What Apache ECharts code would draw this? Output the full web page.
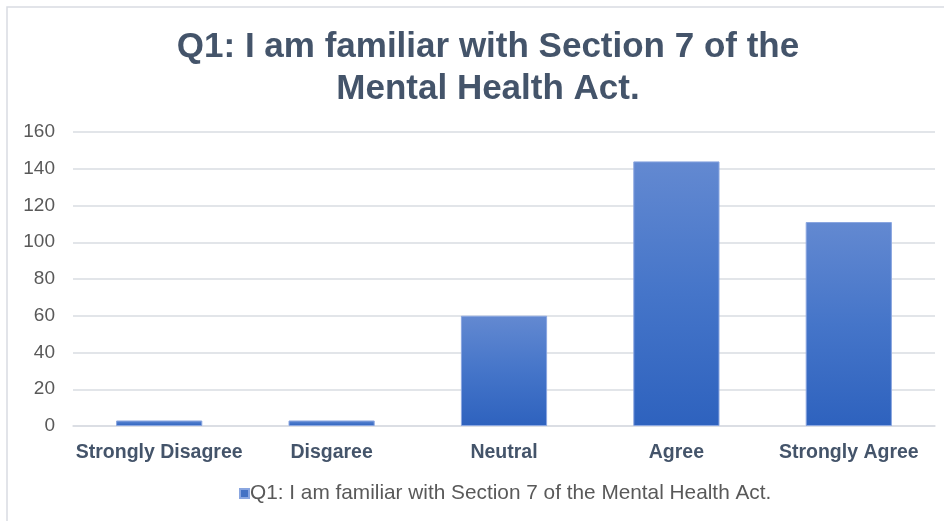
<!DOCTYPE html>
<html><head><meta charset="utf-8">
<style>html,body{margin:0;padding:0;background:#fff}#c{width:944px;height:521px}</style>
<script src="https://cdn.jsdelivr.net/npm/echarts@6/dist/echarts.min.js"></script>
</head><body><div id="c"></div>
<script>
var titleText = 'Q1: I am familiar with Section 7 of the\nMental Health Act.';
var seriesName = 'Q1: I am familiar with Section 7 of the Mental Health Act.';
var categories = ['Strongly Disagree', 'Disgaree', 'Neutral', 'Agree', 'Strongly Agree'];
var values = [3, 3, 60, 144, 111];
var yTicks = [0, 20, 40, 60, 80, 100, 120, 140, 160];

var chart = echarts.init(document.getElementById('c'));
chart.setOption({
  animation: false,
  graphic: [{
    type: 'rect', shape: {x: 7, y: 7, width: 1000, height: 1000},
    style: {fill: 'none', stroke: '#D9DCE2', lineWidth: 1.5}, silent: true, z: -1
  }],
  title: {
    text: titleText, left: 483, textAlign: 'center', top: 21,
    textStyle: {fontFamily: 'Liberation Sans, Arial', fontSize: 35, fontWeight: 'bold', color: '#44546A', lineHeight: 42}
  },
  legend: {
    data: [seriesName], bottom: 12, left: 234, itemWidth: 9, itemHeight: 9, icon: 'rect', itemGap: 4,
    itemStyle: {color: '#4472C4'},
    textStyle: {fontFamily: 'Liberation Sans, Arial', fontSize: 20.8, color: '#595959', padding: [0, 0, 0, -4]}
  },
  grid: {left: 73, right: 9, top: 132, bottom: 95, containLabel: false},
  xAxis: {
    type: 'category', data: categories,
    axisLine: {lineStyle: {color: '#D9DCE2', width: 1.5}}, axisTick: {show: false},
    axisLabel: {fontFamily: 'Liberation Sans, Arial', fontSize: 19.5, fontWeight: 'bold', color: '#44546A', margin: 17, interval: 0}
  },
  yAxis: {
    type: 'value', min: yTicks[0], max: yTicks[yTicks.length - 1], interval: 20,
    axisLine: {show: false}, axisTick: {show: false},
    splitLine: {lineStyle: {color: '#D9DCE2', width: 1.5}},
    axisLabel: {fontFamily: 'Liberation Sans, Arial', fontSize: 19, color: '#595959', margin: 18}
  },
  series: [{
    name: seriesName, type: 'bar', data: values, barWidth: '50%',
    itemStyle: {
      color: new echarts.graphic.LinearGradient(0, 0, 0, 1, [
        {offset: 0, color: '#6389D1'}, {offset: 0.5, color: '#4575C9'}, {offset: 1, color: '#2E62BE'}
      ]),
      borderColor: '#8AA6E0', borderWidth: 1
    }
  }],
  color: ['#4472C4']
});
</script></body></html>
